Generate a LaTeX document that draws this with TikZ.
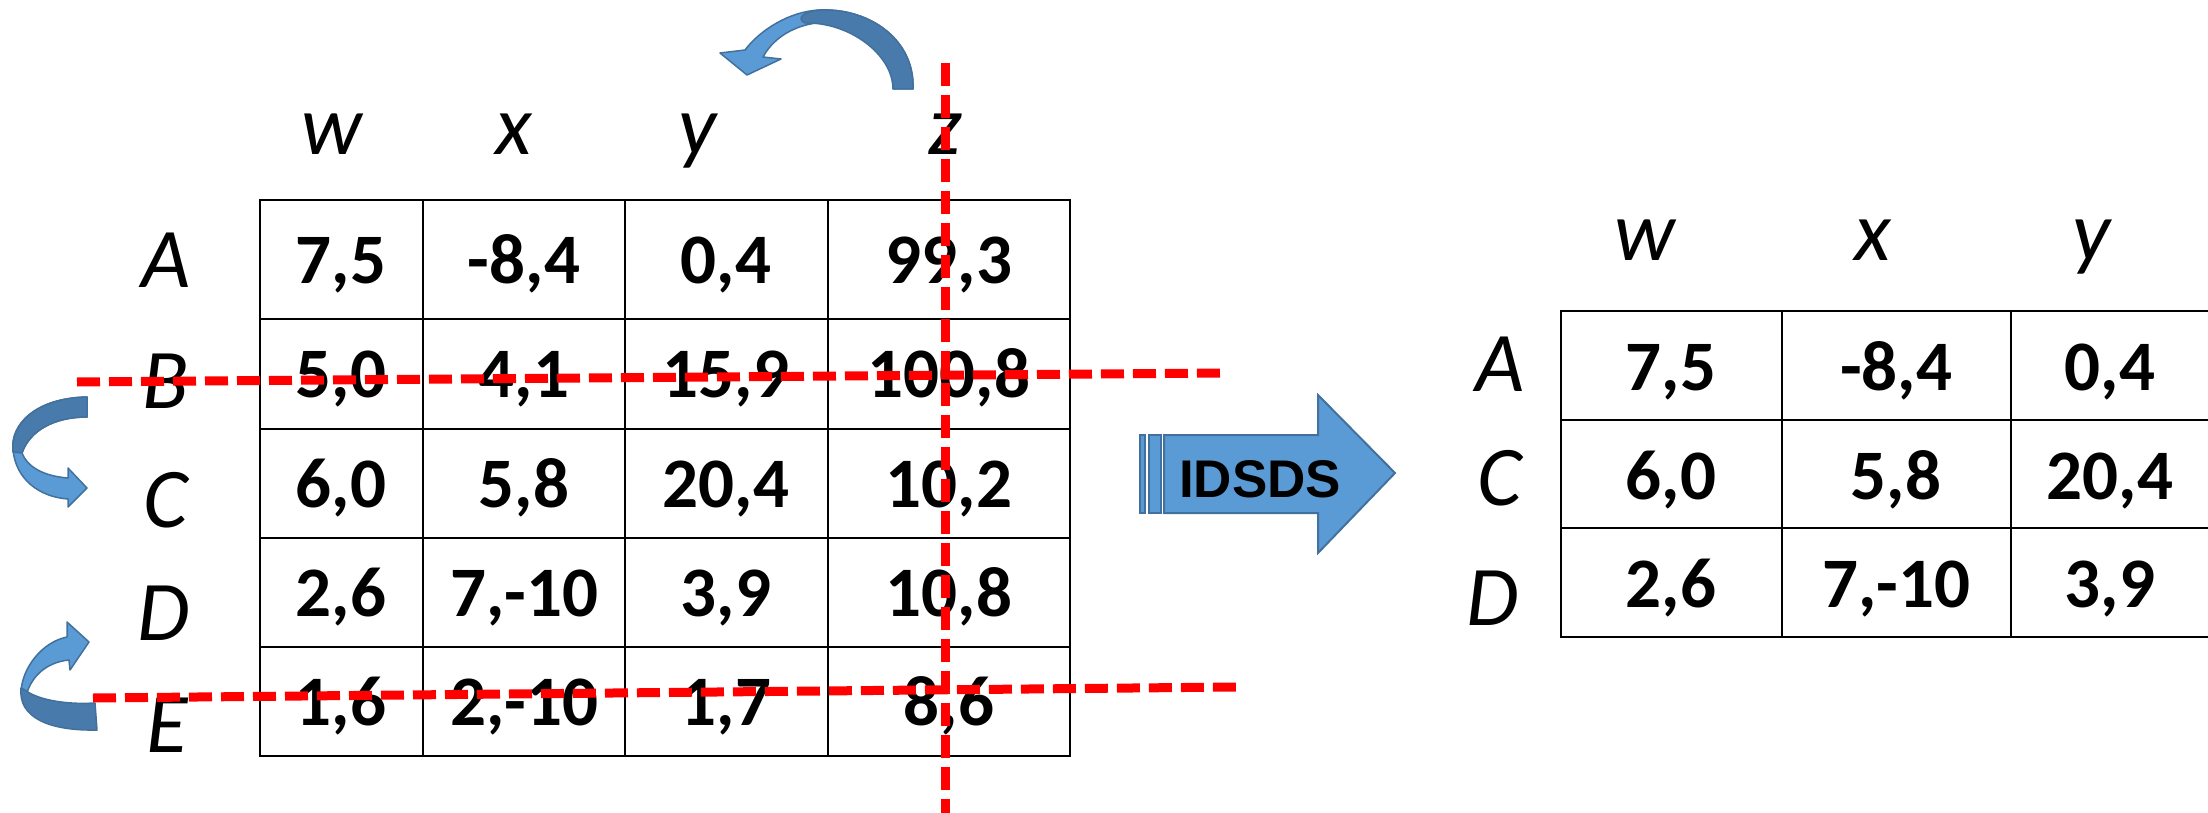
\documentclass[tikz,border=0pt]{standalone}
\usepackage{fontspec}
\setmainfont{Carlito}
\newfontfamily\arrowfont{Liberation Sans}
\definecolor{bandfill}{RGB}{91,155,213}
\definecolor{banddark}{RGB}{72,122,172}
\definecolor{bandline}{RGB}{65,113,156}
\definecolor{cutred}{RGB}{255,0,0}
\tikzset{
	cellnum/.style={
		anchor=base,
		inner sep=0pt,
		font=\fontsize{71}{80}\selectfont\bfseries
	},
	axislabel/.style={
		anchor=base,
		inner sep=0pt,
		font=\fontsize{85}{96}\selectfont\itshape
	},
	gridline/.style={line width=2.8pt, line cap=rect},
	cutline/.style={draw=cutred, line width=9pt, dash pattern=on 23pt off 9pt},
	bandfront/.style={fill=bandfill, draw=bandline, line width=1.5pt, line join=round},
	bandback/.style={fill=banddark, draw=bandline, line width=1.5pt, line join=round},
	idsdsshape/.style={fill=bandfill, draw=bandline, line width=2pt}
}

\begin{document}
\begin{tikzpicture}[x=1pt, y=-1pt]
	\useasboundingbox (0,0) rectangle (2208,813);

	% Full game: grid
	\draw[gridline] (260,200) rectangle (1070,756);
	\draw[gridline] (423,200) -- (423,756);
	\draw[gridline] (625,200) -- (625,756);
	\draw[gridline] (828,200) -- (828,756);
	\draw[gridline] (260,319) -- (1070,319);
	\draw[gridline] (260,429) -- (1070,429);
	\draw[gridline] (260,538) -- (1070,538);
	\draw[gridline] (260,647) -- (1070,647);

	% Full game: strategies
	\node[axislabel] (fw) at (332,155) {w};
	\node[axislabel] (fx) at (514,155) {x};
	\node[axislabel] (fy) at (697,155) {y};
	\node[axislabel] (fz) at (945,155) {z};
	\node[axislabel] (fA) at (166,287) {A};
	\node[axislabel] (fB) at (166,408) {B};
	\node[axislabel] (fC) at (166,527) {C};
	\node[axislabel] (fD) at (164,640) {D};
	\node[axislabel] (fE) at (167,752) {E};

	% Full game: payoffs
	\node[cellnum] (fAw) at (341,283) {7,5};
	\node[cellnum] (fAx) at (524,283) {-8,4};
	\node[cellnum] (fAy) at (726,283) {0,4};
	\node[cellnum] (fAz) at (949,283) {99,3};
	\node[cellnum] (fBw) at (341,397) {5,0};
	\node[cellnum] (fBx) at (524,397) {4,1};
	\node[cellnum] (fBy) at (726,397) {15,9};
	\node[cellnum] (fBz) at (949,397) {100,8};
	\node[cellnum] (fCw) at (341,507) {6,0};
	\node[cellnum] (fCx) at (524,507) {5,8};
	\node[cellnum] (fCy) at (726,507) {20,4};
	\node[cellnum] (fCz) at (949,507) {10,2};
	\node[cellnum] (fDw) at (341,616) {2,6};
	\node[cellnum] (fDx) at (524,616) {7,-10};
	\node[cellnum] (fDy) at (726,616) {3,9};
	\node[cellnum] (fDz) at (949,616) {10,8};
	\node[cellnum] (fEw) at (341,725) {1,6};
	\node[cellnum] (fEx) at (524,725) {2,-10};
	\node[cellnum] (fEy) at (726,725) {1,7};
	\node[cellnum] (fEz) at (949,725) {8,6};

	% Reduced game: grid
	\draw[gridline] (1561,311) rectangle (2212,637);
	\draw[gridline] (1782,311) -- (1782,637);
	\draw[gridline] (2011,311) -- (2011,637);
	\draw[gridline] (1561,420) -- (2212,420);
	\draw[gridline] (1561,528) -- (2212,528);

	% Reduced game: strategies
	\node[axislabel] (rw) at (1645,260) {w};
	\node[axislabel] (rx) at (1873,260) {x};
	\node[axislabel] (ry) at (2091,260) {y};
	\node[axislabel] (rA) at (1500,391) {A};
	\node[axislabel] (rC) at (1500,505) {C};
	\node[axislabel] (rD) at (1493,625) {D};

	% Reduced game: payoffs
	\node[cellnum] (rAw) at (1671,390) {7,5};
	\node[cellnum] (rAx) at (1896,390) {-8,4};
	\node[cellnum] (rAy) at (2110,390) {0,4};
	\node[cellnum] (rCw) at (1671,499) {6,0};
	\node[cellnum] (rCx) at (1896,499) {5,8};
	\node[cellnum] (rCy) at (2110,499) {20,4};
	\node[cellnum] (rDw) at (1671,607) {2,6};
	\node[cellnum] (rDx) at (1896,607) {7,-10};
	\node[cellnum] (rDy) at (2110,607) {3,9};

	% IDSDS arrow
	\draw[idsdsshape] (1140,435) rectangle (1145,513);
	\draw[idsdsshape] (1149,435) rectangle (1161,513);
	\draw[idsdsshape] (1164,435) -- (1318,435) -- (1318,395) -- (1395,473)
		-- (1318,553) -- (1318,513) -- (1164,513) -- cycle;
	\node[inner sep=0pt, font=\arrowfont\bfseries\fontsize{53}{60}\selectfont] (idsds) at (1260,479) {IDSDS};

	% Curved arrows (swaps)
	\draw[bandfront] (913,89) .. controls (915,40) and (870,8) .. (820,10)
		.. controls (790,11) and (760,30) .. (745,50) -- (720,53) -- (747,75) -- (781,59) -- (763,57)
		.. controls (775,35) and (800,22) .. (830,22)
		.. controls (865,23) and (893,55) .. (893,89) -- cycle;
	\draw[bandback] (913,89) .. controls (915,40) and (870,8) .. (820,10)
		.. controls (805,11) and (795,18) .. (805,23)
		.. controls (850,22) and (893,55) .. (893,89) -- cycle;

	\draw[bandfront] (87,397) .. controls (35,398) and (10,425) .. (13,450)
		.. controls (16,480) and (40,497) .. (68,499) -- (68,507) -- (87,488) -- (68,468) -- (68,478)
		.. controls (42,476) and (27,466) .. (22,453)
		.. controls (30,430) and (55,417) .. (87,417) -- cycle;
	\draw[bandback] (87,397) .. controls (35,398) and (10,425) .. (13,452)
		-- (22,453) .. controls (30,430) and (55,417) .. (87,417) -- cycle;

	\draw[bandfront] (21,692) .. controls (22,668) and (42,642) .. (67,637) -- (67,622) -- (89,642)
		-- (70,670) -- (69,660) .. controls (48,662) and (30,675) .. (25,700) -- cycle;
	\draw[bandback] (21,688) .. controls (18,718) and (50,731) .. (97,730) -- (95,703)
		.. controls (60,705) and (35,698) .. (25,690) -- cycle;

	% Eliminated rows and column
	\draw[cutline] (77,382) -- (1222,373);
	\draw[cutline] (93,698) -- (1236,687);
	\draw[cutline] (945,63) -- (945,813);

\end{tikzpicture}
\end{document}
